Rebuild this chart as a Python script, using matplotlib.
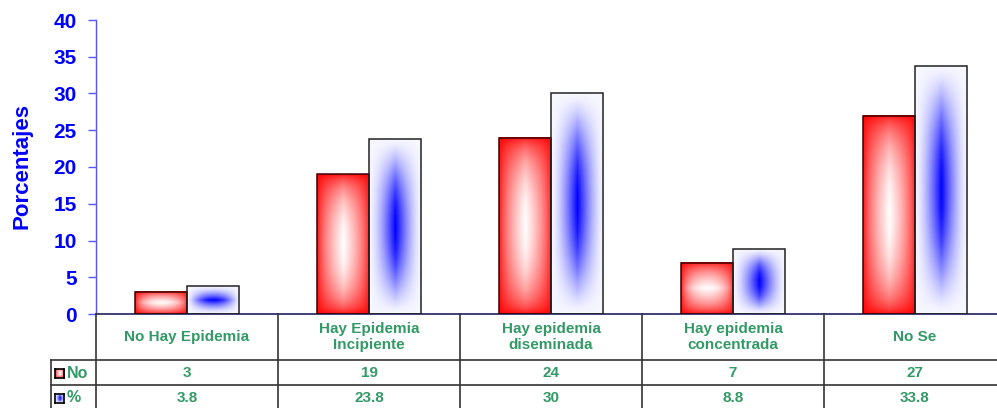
import numpy as np
import matplotlib
matplotlib.use("Agg")
import matplotlib.pyplot as plt
from matplotlib.lines import Line2D
from matplotlib.patches import Rectangle
import matplotlib.transforms as mtransforms

categories = ["No Hay Epidemia", "Hay Epidemia\nIncipiente", "Hay epidemia\ndiseminada",
              "Hay epidemia\nconcentrada", "No Se"]
no_values = [3, 19, 24, 7, 27]
pct_values = [3.8, 23.8, 30, 8.8, 33.8]
no_labels = ["3", "19", "24", "7", "27"]
pct_labels = ["3.8", "23.8", "30", "8.8", "33.8"]
series_names = ["No", "%"]
yticks = [0, 5, 10, 15, 20, 25, 30, 35, 40]

W, H = 997, 408
fig = plt.figure(figsize=(W / 100, H / 100), dpi=100)
plt.rcParams['font.family'] = ['Liberation Sans', 'DejaVu Sans']

ax_l, ax_r, ax_t, ax_b = 96, 1006, 20, 314
ax = fig.add_axes([ax_l / W, 1 - ax_b / H, (ax_r - ax_l) / W, (ax_b - ax_t) / H])
ax.set_xlim(-0.5, 4.5)
ax.set_ylim(0, 40)
px_x = (ax_r - ax_l) / 5.0
px_y = (ax_b - ax_t) / 40.0

GREEN = "#339966"
BLUE = "#0000FF"


def centerness(nx, ny):
    hw, hh = nx / 2.0, ny / 2.0
    xs = np.clip(np.abs(np.arange(nx) + 0.5 - hw) / hw, 0, 1)
    ys = np.clip(np.abs(np.arange(ny) + 0.5 - hh) / hh, 0, 1)
    if ny >= nx:
        ys = ys ** 2
    else:
        xs = xs ** 2
    return (1 - ys)[:, None] * (1 - xs)[None, :]


def red_img(nx, ny):
    w = centerness(nx, ny) ** 0.6
    img = np.zeros((ny, nx, 3))
    img[..., 0] = 1.0
    img[..., 1] = w
    img[..., 2] = w
    return img


def blue_img(nx, ny):
    b = centerness(nx, ny) ** 1.5
    base = np.array([0.97, 0.97, 1.0])
    blue = np.array([0.0, 0.0, 1.0])
    return base[None, None, :] * (1 - b[..., None]) + blue[None, None, :] * b[..., None]


bw = 0.286
x = np.arange(len(categories))
for i in range(len(categories)):
    for j, (vals, maker, ec) in enumerate([(no_values, red_img, "#400000"),
                                             (pct_values, blue_img, "#222222")]):
        x0 = x[i] - bw if j == 0 else x[i]
        v = vals[i]
        nx = max(2, int(round(bw * px_x)) * 2)
        ny = max(2, int(round(v * px_y)) * 2)
        ax.imshow(maker(nx, ny), extent=(x0, x0 + bw, 0, v), aspect='auto',
                  interpolation='bilinear', zorder=2)
        ax.add_patch(Rectangle((x0, 0), bw, v, fill=False, edgecolor=ec, lw=1.1, zorder=3))

ax.set_xlim(-0.5, 4.5)
ax.set_ylim(0, 40)
ax.set_yticks(yticks)
ax.set_yticklabels([str(t) for t in yticks], fontsize=15, fontweight='bold', color=BLUE)
ax.tick_params(axis='y', direction='out', length=6, width=1, color='#5555ff', pad=8)
ax.set_xticks([])
for s in ["top", "right"]:
    ax.spines[s].set_visible(False)
ax.spines["left"].set_color('#5555ff')
ax.spines["bottom"].set_color('#202060')
ax.spines["bottom"].set_linewidth(1.2)
ax.spines["left"].set_linewidth(1.0)

fig.text(22 / W, 1 - 166 / H, "Porcentajes", rotation=90, ha='center', va='center',
         fontsize=16, fontweight='bold', color=BLUE)

# table
def fy(p):
    return 1 - p / H

trans = mtransforms.blended_transform_factory(ax.transData, fig.transFigure)
line_c = "#333333"
for b in np.arange(-0.5, 5.0, 1.0):
    fig.add_artist(Line2D([b, b], [fy(314), fy(410)], transform=trans, color=line_c, lw=1.2))
for yy in [360, 385]:
    fig.add_artist(Line2D([51 / W, 1.0], [fy(yy), fy(yy)], transform=fig.transFigure,
                          color=line_c, lw=1.2))
fig.add_artist(Line2D([51 / W, 51 / W], [fy(360), fy(410)], transform=fig.transFigure,
                      color=line_c, lw=1.2))

for i in range(len(categories)):
    fig.text(x[i], fy(337), categories[i], transform=trans, ha='center', va='center',
             fontsize=11, fontweight='bold', color=GREEN, linespacing=1.1)
    fig.text(x[i], fy(373), no_labels[i], transform=trans, ha='center', va='center',
             fontsize=11, fontweight='bold', color=GREEN)
    fig.text(x[i], fy(398), pct_labels[i], transform=trans, ha='center', va='center',
             fontsize=11, fontweight='bold', color=GREEN)

# legend keys
for k, (name, maker, yc) in enumerate([(series_names[0], red_img, 373), (series_names[1], blue_img, 398)]):
    kax = fig.add_axes([55 / W, fy(yc + 4.5), 9 / W, 9 / H])
    kax.imshow(maker(18, 18), extent=(0, 1, 0, 1), aspect='auto', interpolation='bilinear')
    kax.set_xticks([]); kax.set_yticks([])
    for s in kax.spines.values():
        s.set_color('#000000'); s.set_linewidth(1.2)
    fig.text(67 / W, fy(yc), name, ha='left', va='center', fontsize=11.5,
             fontweight='bold', color=GREEN)

fig.savefig("out.png", dpi=100)
